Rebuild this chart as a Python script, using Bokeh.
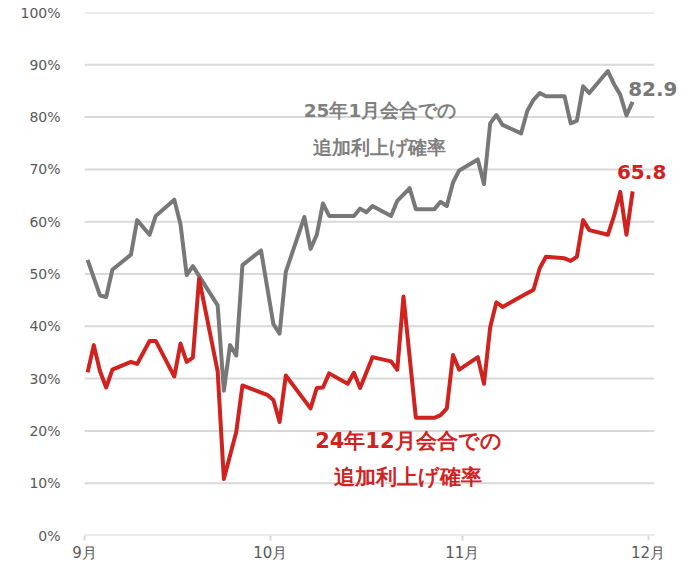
import pandas as pd
from bokeh.plotting import figure
from bokeh.models import Range1d, FixedTicker, Label, PrintfTickFormatter
from bokeh.embed import file_html
from bokeh.resources import INLINE

# --- data ---
jan_dates = ["2024-09-02", "2024-09-04", "2024-09-05", "2024-09-06", "2024-09-09", "2024-09-10",
             "2024-09-12", "2024-09-13", "2024-09-16", "2024-09-17", "2024-09-18", "2024-09-19",
             "2024-09-23", "2024-09-24", "2024-09-25", "2024-09-26", "2024-09-27", "2024-09-30",
             "2024-10-02", "2024-10-03", "2024-10-04", "2024-10-07", "2024-10-08", "2024-10-09",
             "2024-10-10", "2024-10-11", "2024-10-14", "2024-10-15", "2024-10-16", "2024-10-17",
             "2024-10-18", "2024-10-21", "2024-10-22", "2024-10-24", "2024-10-25", "2024-10-28",
             "2024-10-29", "2024-10-30", "2024-10-31", "2024-11-01", "2024-11-04", "2024-11-05",
             "2024-11-06", "2024-11-07", "2024-11-08", "2024-11-11", "2024-11-12", "2024-11-13",
             "2024-11-14", "2024-11-15", "2024-11-18", "2024-11-19", "2024-11-20", "2024-11-21",
             "2024-11-22", "2024-11-25", "2024-11-26", "2024-11-27", "2024-11-28", "2024-11-29"]
jan_values = [52.7, 45.9, 45.6, 50.8, 53.7, 60.3,
              57.5, 61.1, 64.2, 59.5, 49.8, 51.5,
              44.0, 27.7, 36.4, 34.4, 51.7, 54.5,
              40.4, 38.6, 50.4, 60.9, 54.8, 57.5,
              63.5, 61.1, 61.1, 61.1, 62.5, 61.8,
              63.0, 61.1, 64.0, 66.4, 62.4, 62.4,
              63.8, 63.0, 67.5, 69.8, 71.9, 67.2,
              78.8, 80.4, 78.5, 76.9, 81.2, 83.3,
              84.6, 84.0, 84.0, 78.8, 79.3, 85.9,
              84.6, 88.8, 86.3, 84.3, 80.3, 82.9]

dec_dates = ["2024-09-02", "2024-09-03", "2024-09-04", "2024-09-05", "2024-09-06", "2024-09-09",
             "2024-09-10", "2024-09-12", "2024-09-13", "2024-09-16", "2024-09-17", "2024-09-18",
             "2024-09-19", "2024-09-20", "2024-09-23", "2024-09-24", "2024-09-26", "2024-09-27",
             "2024-10-01", "2024-10-02", "2024-10-03", "2024-10-04", "2024-10-08", "2024-10-09",
             "2024-10-10", "2024-10-11", "2024-10-14", "2024-10-15", "2024-10-16", "2024-10-18",
             "2024-10-21", "2024-10-22", "2024-10-23", "2024-10-25", "2024-10-28", "2024-10-29",
             "2024-10-30", "2024-10-31", "2024-11-01", "2024-11-04", "2024-11-05", "2024-11-06",
             "2024-11-07", "2024-11-08", "2024-11-11", "2024-11-13", "2024-11-14", "2024-11-15",
             "2024-11-18", "2024-11-19", "2024-11-20", "2024-11-21", "2024-11-22", "2024-11-25",
             "2024-11-26", "2024-11-27", "2024-11-28", "2024-11-29"]
dec_values = [31.2, 36.4, 31.4, 28.3, 31.7, 33.2,
              32.8, 37.2, 37.2, 30.4, 36.7, 33.2,
              34.0, 49.1, 31.4, 10.8, 19.8, 28.7,
              26.9, 25.9, 21.7, 30.6, 24.3, 28.2,
              28.3, 31.0, 29.0, 31.1, 28.2, 34.1,
              33.3, 31.7, 45.7, 22.5, 22.5, 23.0,
              24.3, 34.5, 31.7, 34.1, 29.0, 39.8,
              44.6, 43.7, 45.7, 47.0, 51.1, 53.3,
              53.0, 52.5, 53.3, 60.3, 58.4, 57.5,
              61.1, 65.7, 57.5, 65.8]

month_ticks = ["2024-09-01 12:00", "2024-10-01 12:00", "2024-11-01 12:00", "2024-12-01 12:00"]
month_labels = ["9月", "10月", "11月", "12月"]
y_ticks = [0, 10, 20, 30, 40, 50, 60, 70, 80, 90, 100]

jan_title = ["25年1月会合での", "追加利上げ確率"]
dec_title = ["24年12月会合での", "追加利上げ確率"]

GRAY = "#787878"
RED = "#d0221f"
GRID = "#d9d9d9"
AX_TEXT = "#595959"
NUM_FONT = "DejaVu Sans"

# horizontal extent of the gridded plot area, and the canvas range (room for end labels)
GRID_START = "2024-09-01 12:00"
GRID_END = "2024-12-02 12:00"
RANGE_END = "2024-12-06 02:00"


def ms(s):
    return pd.Timestamp(s).value / 1e6


jan_x = pd.to_datetime(jan_dates)
dec_x = pd.to_datetime(dec_dates)

p = figure(frame_width=592, frame_height=523, x_axis_type="datetime",
           output_backend="svg", toolbar_location=None,
           min_border_left=84, min_border_right=4, min_border_top=12, min_border_bottom=37)
p.x_range = Range1d(ms(GRID_START), ms(RANGE_END))
p.y_range = Range1d(0, 100)
p.outline_line_color = None
p.background_fill_color = "white"
p.border_fill_color = "white"

# y axis
p.yaxis.ticker = FixedTicker(ticks=y_ticks)
p.yaxis.formatter = PrintfTickFormatter(format="%d%%")
p.yaxis.axis_line_color = None
p.yaxis.major_tick_line_color = None
p.yaxis.minor_tick_line_color = None
p.yaxis.major_label_text_font = NUM_FONT
p.yaxis.major_label_text_font_size = "14px"
p.yaxis.major_label_text_color = AX_TEXT
p.yaxis.major_label_standoff = 18
p.ygrid.grid_line_color = None
p.xgrid.grid_line_color = None

# horizontal gridlines (including the 0% base line), limited to the plot area
p.segment(x0=[ms(GRID_START)] * len(y_ticks), y0=y_ticks,
          x1=[ms(GRID_END)] * len(y_ticks), y1=y_ticks,
          line_color=GRID, line_width=2)

# x axis
tick_ms = [ms(t) for t in month_ticks]
p.xaxis.ticker = FixedTicker(ticks=tick_ms)
p.xaxis.major_label_overrides = {t: lab for t, lab in zip(tick_ms, month_labels)}
p.xaxis.axis_line_color = None
p.xaxis.major_tick_line_color = GRID
p.xaxis.major_tick_line_width = 2
p.xaxis.major_tick_in = 0
p.xaxis.major_tick_out = 5
p.xaxis.minor_tick_line_color = None
p.xaxis.major_label_text_font = NUM_FONT
p.xaxis.major_label_text_font_size = "15px"
p.xaxis.major_label_text_color = AX_TEXT
p.xaxis.major_label_standoff = 3

p.line(jan_x, jan_values, line_color=GRAY, line_width=4, line_join="round")
p.line(dec_x, dec_values, line_color=RED, line_width=4, line_join="round")

# end value labels
p.add_layout(Label(x=ms(jan_dates[-1]), y=jan_values[-1], text=f"{jan_values[-1]:.1f}",
                   x_offset=-4.5, y_offset=13, text_align="left", text_baseline="middle",
                   text_font=NUM_FONT, text_font_style="bold", text_font_size="20px",
                   text_color=GRAY))
p.add_layout(Label(x=ms(dec_dates[-1]), y=dec_values[-1], text=f"{dec_values[-1]:.1f}",
                   x_offset=9, y_offset=19, text_align="center", text_baseline="middle",
                   text_font=NUM_FONT, text_font_style="bold", text_font_size="20px",
                   text_color=RED))

# series titles
for txt, yv in zip(jan_title, [81.3, 74.2]):
    p.add_layout(Label(x=ms("2024-10-19 05:00"), y=yv, text=txt,
                       text_align="center", text_baseline="middle",
                       text_font=NUM_FONT, text_font_style="bold", text_font_size="18.5px",
                       text_color="#7f7f7f"))
for txt, yv in zip(dec_title, [18.0, 11.1]):
    p.add_layout(Label(x=ms("2024-10-23 19:00"), y=yv, text=txt,
                       text_align="center", text_baseline="middle",
                       text_font=NUM_FONT, text_font_style="bold", text_font_size="21px",
                       text_color=RED))

open("out.html", "w").write(file_html(p, INLINE))
